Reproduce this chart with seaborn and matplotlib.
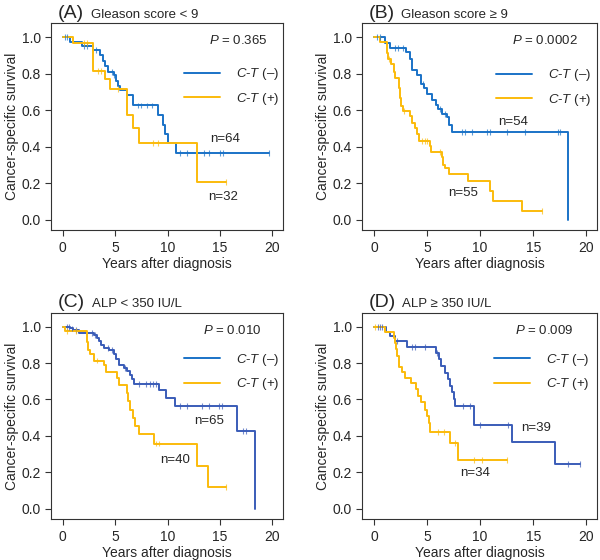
import numpy as np
import pandas as pd
import matplotlib
matplotlib.use("Agg")
import matplotlib.pyplot as plt
from matplotlib.lines import Line2D
import seaborn as sns

# ---- data (step times / survival after the step) ----
# (A) Gleason score < 9
a_neg_t = [0, 0.7, 1.8, 2.9, 3.6, 3.8, 4.0, 4.3, 4.9, 5.1, 5.3, 5.5, 6.1, 6.7, 9.1, 9.6, 9.8, 10.0, 10.8]
a_neg_s = [1.0, 0.97, 0.95, 0.93, 0.90, 0.87, 0.84, 0.81, 0.79, 0.76, 0.73, 0.71, 0.68, 0.625, 0.575, 0.52, 0.47, 0.42, 0.365]
a_neg_end = 19.7
a_neg_cens = [0.2, 0.4, 2.0, 2.3, 3.2, 4.7, 4.9, 7.2, 7.5, 8.0, 8.5, 11.2, 11.9, 13.5, 14.0, 15.0, 15.3, 19.7]
a_pos_t = [0, 1.0, 2.9, 4.0, 4.5, 6.1, 6.7, 7.3, 12.8]
a_pos_s = [1.0, 0.966, 0.815, 0.768, 0.714, 0.573, 0.504, 0.418, 0.206]
a_pos_end = 15.6
a_pos_cens = [2.0, 2.3, 3.4, 3.7, 5.3, 8.6, 9.1, 15.6]

# (B) Gleason score >= 9
b_neg_t = [0, 1.0, 1.56, 3.0, 3.44, 3.6, 4.07, 4.4, 4.7, 5.0, 5.5, 5.8, 6.0, 6.4, 6.9, 7.1, 7.35, 18.3]
b_neg_s = [1.0, 0.966, 0.94, 0.92, 0.88, 0.82, 0.79, 0.745, 0.72, 0.69, 0.655, 0.63, 0.606, 0.58, 0.56, 0.52, 0.478, 0.0]
b_neg_end = 18.3
b_neg_cens = [0.3, 0.6, 2.0, 2.3, 2.7, 4.6, 6.2, 6.7, 8.3, 8.6, 9.2, 10.6, 10.9, 12.5, 14.2, 17.3, 17.5]
b_pos_t = [0, 0.6, 1.2, 1.35, 1.6, 1.9, 2.0, 2.35, 2.45, 2.55, 2.75, 3.4, 3.6, 3.9, 4.07, 4.2,
           5.25, 5.4, 6.4, 6.55, 6.7, 7.1, 8.9, 10.9, 11.25, 13.97]
b_pos_s = [1.0, 0.975, 0.91, 0.88, 0.85, 0.81, 0.775, 0.72, 0.665, 0.62, 0.595, 0.565, 0.53, 0.50, 0.468, 0.43,
           0.405, 0.37, 0.345, 0.30, 0.28, 0.252, 0.21, 0.155, 0.10, 0.048]
b_pos_end = 15.8
b_pos_cens = [1.4, 2.8, 4.5, 4.8, 5.0, 6.2, 15.8]

# (C) ALP < 350 IU/L
c_neg_t = [0, 0.7, 1.0, 1.6, 3.0, 3.3, 3.5, 3.65, 3.9, 4.4, 4.85, 5.06, 5.4, 5.85, 6.15, 6.4, 6.6, 6.85,
           9.2, 9.85, 10.7, 16.6, 18.3]
c_neg_s = [1.0, 0.99, 0.98, 0.965, 0.956, 0.94, 0.923, 0.90, 0.883, 0.87, 0.85, 0.82, 0.79, 0.774, 0.756,
           0.737, 0.715, 0.686, 0.65, 0.61, 0.564, 0.427, 0.0]
c_neg_end = 18.3
c_neg_cens = [0.4, 0.6, 0.9, 1.3, 2.8, 3.1, 4.3, 4.7, 5.9, 7.3, 7.9, 8.3, 8.6, 8.9, 11.15, 11.9, 13.3, 14.0,
              14.9, 15.2, 17.2, 17.5]
c_pos_t = [0, 0.2, 2.35, 2.45, 2.65, 3.0, 3.9, 4.1, 5.15, 5.4, 6.1, 6.2, 6.4, 6.7, 6.9, 7.25, 8.7, 12.8, 13.9]
c_pos_s = [1.0, 0.975, 0.915, 0.874, 0.85, 0.814, 0.79, 0.75, 0.72, 0.68, 0.635, 0.59, 0.545, 0.50, 0.455,
           0.41, 0.358, 0.237, 0.117]
c_pos_end = 15.6
c_pos_cens = [0.4, 1.3, 3.3, 8.9, 9.2, 15.6]

# (D) ALP >= 350 IU/L
d_neg_t = [0, 1.16, 1.56, 2.03, 3.1, 5.8, 6.1, 6.35, 6.65, 6.97, 7.2, 7.35, 7.5, 7.66, 9.4, 12.97, 17.03]
d_neg_s = [1.0, 0.97, 0.947, 0.92, 0.887, 0.856, 0.82, 0.783, 0.747, 0.71, 0.674, 0.643, 0.60, 0.564, 0.46,
           0.369, 0.248]
d_neg_end = 19.4
d_neg_cens = [0.4, 0.6, 0.8, 2.2, 3.6, 3.9, 4.8, 5.95, 8.4, 9.0, 10.0, 12.6, 18.3, 19.4]
d_pos_t = [0, 1.0, 1.9, 2.0, 2.1, 2.2, 2.35, 2.6, 2.9, 3.45, 4.0, 4.15, 4.4, 4.8, 5.0, 5.2, 5.3, 7.2, 7.9]
d_pos_s = [1.0, 0.97, 0.94, 0.91, 0.875, 0.84, 0.78, 0.75, 0.72, 0.69, 0.655, 0.62, 0.585, 0.545, 0.51,
           0.47, 0.42, 0.36, 0.27]
d_pos_end = 12.5
d_pos_cens = [0.1, 6.0, 6.6, 7.6, 9.4, 10.2, 12.5]

panel_letters = ["(A)", "(B)", "(C)", "(D)"]
panel_titles = ["Gleason score < 9", "Gleason score \u2265 9", "ALP < 350 IU/L", "ALP \u2265 350 IU/L"]
p_values = ["0.365", "0.0002", "0.010", "0.009"]
n_neg = [64, 54, 65, 39]
n_pos = [32, 55, 40, 34]
series_labels = ["$C$-$T$ (\u2013)", "$C$-$T$ (+)"]

curves = [
    ((a_neg_t, a_neg_s, a_neg_end, a_neg_cens), (a_pos_t, a_pos_s, a_pos_end, a_pos_cens)),
    ((b_neg_t, b_neg_s, b_neg_end, b_neg_cens), (b_pos_t, b_pos_s, b_pos_end, b_pos_cens)),
    ((c_neg_t, c_neg_s, c_neg_end, c_neg_cens), (c_pos_t, c_pos_s, c_pos_end, c_pos_cens)),
    ((d_neg_t, d_neg_s, d_neg_end, d_neg_cens), (d_pos_t, d_pos_s, d_pos_end, d_pos_cens)),
]

# ---- layout / style ----
sns.set_style("ticks")
plt.rcParams["font.family"] = ["Liberation Sans", "DejaVu Sans"]
plt.rcParams["mathtext.fontset"] = "custom"
plt.rcParams["mathtext.rm"] = "Liberation Sans"
plt.rcParams["mathtext.it"] = "Liberation Sans:italic"

yellow = "#fbbb0b"
blue_ab = "#1a72c7"
blue_cd = "#3a5cb8"

axes_pos = [
    [0.0845, 0.589, 0.387, 0.370],
    [0.603, 0.589, 0.392, 0.370],
    [0.0845, 0.0727, 0.387, 0.369],
    [0.603, 0.0727, 0.392, 0.369],
]
# label positions in data units: (x, y) for n(-) and n(+)
n_neg_xy = [(15.5, 0.443), (13.1, 0.535), (14.0, 0.48), (15.25, 0.443)]
n_pos_xy = [(15.3, 0.124), (8.4, 0.148), (10.7, 0.27), (9.5, 0.194)]
p_xy = [(0.934, 0.897), (0.917, 0.897), (0.908, 0.897), (0.898, 0.897)]
leg_xy = [(0.575, 0.79), (0.571, 0.786), (0.575, 0.81), (0.564, 0.81)]
sub_x = [0.172, 0.167, 0.176, 0.17]


def step_frame(t, s, end, label):
    tt = list(t) + [end]
    ss = list(s) + [s[-1]]
    return pd.DataFrame({"t": tt, "s": ss, "group": label})


def censor_frame(t, s, cens, label):
    idx = np.searchsorted(t, cens, side="right") - 1
    return pd.DataFrame({"t": cens, "s": np.asarray(s)[idx], "group": label})


fig = plt.figure(figsize=(6, 5.6), dpi=100)

for i in range(4):
    ax = fig.add_axes(axes_pos[i])
    blue = blue_ab if i < 2 else blue_cd
    (nt, ns, ne, nc), (pt, ps, pe, pc) = curves[i]
    steps = pd.concat([step_frame(nt, ns, ne, "neg"), step_frame(pt, ps, pe, "pos")])
    cens = pd.concat([censor_frame(nt, ns, nc, "neg"), censor_frame(pt, ps, pc, "pos")])
    pal = {"neg": blue, "pos": yellow}

    sns.lineplot(data=steps, x="t", y="s", hue="group", palette=pal, drawstyle="steps-post",
                 estimator=None, sort=False, legend=False, linewidth=1.4, ax=ax)
    sns.scatterplot(data=cens, x="t", y="s", hue="group", palette=pal, marker="|", s=18,
                    linewidth=0.8, alpha=0.7, legend=False, ax=ax, zorder=3)

    ax.set_xlim(-1.14, 21.0)
    ax.set_ylim(-0.058, 1.077)
    ax.set_xticks([0, 5, 10, 15, 20])
    ax.set_yticks([0.0, 0.2, 0.4, 0.6, 0.8, 1.0])
    ax.set_yticklabels(["0.0", "0.2", "0.4", "0.6", "0.8", "1.0"])
    ax.tick_params(labelsize=10, length=4, width=0.8, color="#333333", pad=3)
    ax.tick_params(axis="x", pad=4)
    for sp in ax.spines.values():
        sp.set_color("#333333")
        sp.set_linewidth(0.8)
    ax.set_xlabel("Years after diagnosis", fontsize=10, labelpad=1.5)
    ax.set_ylabel("Cancer-specific survival", fontsize=10, labelpad=2)

    ax.text(0.03, 1.026, panel_letters[i], transform=ax.transAxes, fontsize=14, va="baseline")
    ax.text(sub_x[i], 1.026, panel_titles[i], transform=ax.transAxes, fontsize=9.5, va="baseline")
    ax.text(p_xy[i][0], p_xy[i][1], "$P$ = " + p_values[i], transform=ax.transAxes,
            fontsize=9.5, ha="right", va="baseline")
    ax.text(n_neg_xy[i][0], n_neg_xy[i][1], "n=%d" % n_neg[i], fontsize=9.5, ha="center", va="center")
    ax.text(n_pos_xy[i][0], n_pos_xy[i][1], "n=%d" % n_pos[i], fontsize=9.5, ha="center", va="center")

    handles = [Line2D([], [], color=blue_ab, lw=1.4), Line2D([], [], color=yellow, lw=1.4)]
    ax.legend(handles, series_labels, loc="upper left", bbox_to_anchor=leg_xy[i], frameon=False,
              fontsize=9.5, handlelength=2.7, handletextpad=1.2, labelspacing=0.65,
              borderpad=0, borderaxespad=0)

fig.savefig("out.png", dpi=100)
